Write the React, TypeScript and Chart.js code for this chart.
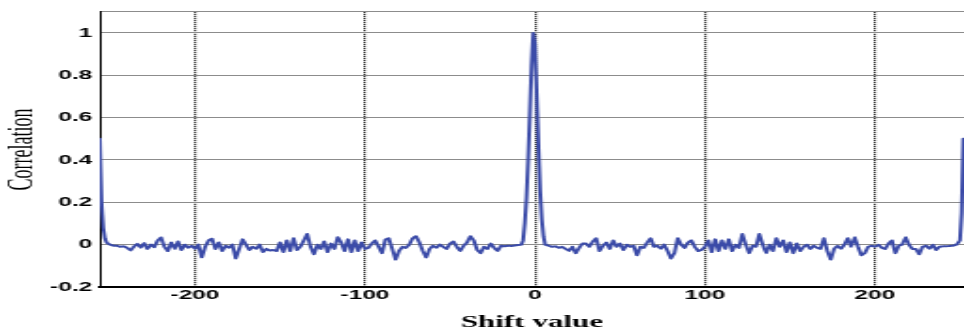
import { useEffect, useRef } from "react";
import { Chart, registerables } from "chart.js";

Chart.register(...registerables);

// Shift values (x) and correlation values (y)
const shiftValues = [
  -256, -255, -254, -253, -252, -250, -248, -246, -244, -242, -240, -238, -236, -234, -232, -230,
  -228, -226, -224, -222, -220, -218, -216, -214, -212, -210, -208, -206, -204, -202, -200,
  -198, -196, -194, -192, -190, -188, -186, -184, -182, -180, -178, -176, -174, -172, -170,
  -168, -166, -164, -162, -160, -158, -156, -154, -152, -150, -148, -146, -144, -142, -140,
  -138, -136, -134, -132, -130, -128, -126, -124, -122, -120, -118, -116, -114, -112, -110,
  -108, -106, -104, -102, -100, -98, -96, -94, -92, -90, -88, -86, -84, -82, -80,
  -78, -76, -74, -72, -70, -68, -66, -64, -62, -60, -58, -56, -54, -52, -50,
  -48, -46, -44, -42, -40, -38, -36, -34, -32, -30, -28, -26, -24, -22, -20,
  -18, -16, -14, -12, -10, -8, -7, -6, -5, -4, -3, -2, -1, 0, 1, 2, 3, 4, 5, 6,
  8, 10, 12, 14, 16, 18, 20, 22, 24, 26, 28, 30, 32, 34, 36, 38, 40,
  42, 44, 46, 48, 50, 52, 54, 56, 58, 60, 62, 64, 66, 68, 70, 72, 74, 76, 78, 80,
  82, 84, 86, 88, 90, 92, 94, 96, 98, 100, 102, 104, 106, 108, 110, 112, 114, 116, 118, 120,
  122, 124, 126, 128, 130, 132, 134, 136, 138, 140, 142, 144, 146, 148, 150, 152, 154, 156, 158, 160,
  162, 164, 166, 168, 170, 172, 174, 176, 178, 180, 182, 184, 186, 188, 190, 192, 194, 196, 198, 200,
  202, 204, 206, 208, 210, 212, 214, 216, 218, 220, 222, 224, 226, 228, 230, 232, 234, 236, 238, 240,
  242, 244, 246, 248, 250, 251, 252,
];

const correlation = [
  0.5, 0.2, 0.08, 0.03, 0.01, 0.0, -0.005, -0.005, -0.01, -0.008, -0.015, -0.028, -0.01, 0.005, -0.015, 0.008,
  -0.02, 0.0, -0.012, 0.02, 0.034, -0.01, -0.03, 0.01, -0.02, 0.015, -0.025, 0.0, -0.015, -0.005, -0.02,
  0.0, -0.06, -0.01, 0.02, 0.028, -0.02, 0.01, -0.03, -0.005, -0.015, 0.0, -0.065, -0.02, 0.025, 0.0,
  -0.025, -0.01, -0.02, 0.0, -0.035, -0.02, -0.028, -0.025, -0.03, 0.01, -0.035, 0.02, -0.03, 0.03, -0.025,
  -0.01, 0.02, 0.05, -0.01, -0.045, 0.0, -0.02, 0.015, -0.035, 0.005, -0.02, 0.035, 0.01, -0.03, 0.025,
  -0.035, 0.02, -0.03, 0.01, -0.02, -0.015, 0.005, 0.02, -0.01, -0.04, 0.025, 0.03, -0.02, -0.07, -0.03,
  -0.01, -0.015, 0.0, 0.03, 0.04, 0.01, -0.03, -0.06, -0.02, -0.005, -0.015, 0.0, -0.01, -0.02, 0.005,
  0.015, -0.01, -0.03, -0.005, 0.01, 0.04, 0.02, -0.025, -0.04, -0.01, -0.02, 0.005, -0.015, -0.03, -0.005,
  -0.008, -0.005, -0.006, -0.004, -0.002, 0.0, 0.02, 0.1, 0.22, 0.4, 0.62, 0.85, 1.0, 0.95, 0.72, 0.48, 0.26, 0.12, 0.04, 0.0,
  -0.005, -0.01, -0.008, -0.015, -0.01, -0.02, -0.03, -0.01, -0.04, -0.015, 0.005, 0.005, -0.01, 0.015, 0.03, -0.03, -0.005,
  0.01, -0.02, 0.02, -0.01, 0.005, -0.025, 0.0, -0.01, -0.005, -0.05, -0.01, -0.015, 0.01, 0.03, -0.01, -0.005, -0.02, 0.0, -0.03, -0.065,
  -0.04, 0.03, 0.0, -0.015, 0.01, 0.02, -0.01, -0.03, -0.025, -0.01, 0.02, -0.035, 0.025, -0.03, 0.02, -0.02, 0.025, -0.03, 0.0, -0.015,
  0.05, 0.0, -0.04, -0.005, -0.01, 0.05, 0.0, -0.04, 0.0, -0.03, 0.03, -0.01, 0.02, -0.035, 0.01, -0.04, 0.005, -0.03, -0.01, 0.0,
  -0.02, -0.005, -0.015, -0.02, 0.03, -0.03, -0.07, -0.02, -0.005, -0.02, 0.0, 0.03, -0.01, 0.035, -0.01, -0.05, -0.04, -0.01, -0.005, -0.01,
  0.0, -0.015, -0.02, 0.005, 0.02, -0.04, -0.005, 0.0, 0.035, 0.0, -0.02, -0.02, -0.045, -0.01, -0.005, -0.02, 0.0, -0.025, -0.01, -0.008,
  -0.008, -0.006, -0.005, 0.0, 0.02, 0.15, 0.5,
];

const xTicks = [-200, -100, 0, 100, 200];
const yTicks = [-0.2, 0, 0.2, 0.4, 0.6, 0.8, 1, 1.1];
const yTickLabels = ["-0.2", "0", "0.2", "0.4", "0.6", "0.8", "1", ""];

const X_MIN = -256;
const X_MAX = 252.4;
const Y_MIN = -0.2;
const Y_MAX = 1.1;

const CSS_W = 964;
const CSS_H = 335;
const CANVAS_W = 512;

export default function App() {
  const canvasRef = useRef<HTMLCanvasElement | null>(null);

  useEffect(() => {
    const canvas = canvasRef.current;
    if (!canvas) return;
    const points = shiftValues.map((x, i) => ({ x, y: correlation[i] }));
    const chart = new Chart(canvas, {
      type: "line",
      data: {
        datasets: [
          {
            data: points,
            borderColor: "#3b4ba8",
            borderWidth: 2,
            borderJoinStyle: "round",
            borderCapStyle: "round",
            pointRadius: 0,
            tension: 0.0001,
            fill: false,
          },
        ],
      },
      options: {
        animation: false,
        responsive: false,
        devicePixelRatio: 1,
        layout: { padding: { top: 8, left: 0, right: 0, bottom: 0 } },
        plugins: { legend: { display: false }, tooltip: { enabled: false } },
        scales: {
          x: {
            type: "linear",
            min: X_MIN,
            max: X_MAX,
            afterBuildTicks: (s: any) => {
              s.ticks = xTicks.map((v) => ({ value: v }));
            },
            afterFit: (s: any) => {
              s.height = 48;
            },
            grid: { color: "#000", lineWidth: 1.2, drawTicks: false },
            border: { display: true, color: "#000", width: 2, dash: [1, 1] },
            ticks: {
              color: "#000",
              padding: 1,
              maxRotation: 0,
              autoSkip: false,
              font: { family: "'Liberation Sans', Arial, sans-serif", size: 13, weight: "bold" },
              callback: (v: any) => String(v),
            },
            title: {
              display: true,
              text: "Shift value",
              color: "#000",
              font: { family: "'Liberation Serif', 'Times New Roman', serif", size: 16.5, weight: "bold" },
              padding: { top: 0, bottom: 2 },
            },
          },
          y: {
            min: Y_MIN,
            max: Y_MAX,
            afterBuildTicks: (s: any) => {
              s.ticks = yTicks.map((v) => ({ value: v }));
            },
            afterFit: (s: any) => {
              s.width = 53;
            },
            grid: { color: "#8c8c8c", lineWidth: 1, drawTicks: false },
            border: { display: true, color: "#000", width: 1 },
            ticks: {
              color: "#000",
              padding: 4,
              font: { family: "'Liberation Sans', Arial, sans-serif", size: 13, weight: "bold" },
              callback: (v: any, i: number) => yTickLabels[i] ?? String(v),
            },
            title: {
              display: true,
              text: "Correlation",
              color: "#000",
              font: { family: "'Liberation Serif', 'Times New Roman', serif", size: 18 },
              padding: { top: 1, bottom: 0 },
            },
          },
        },
      },
    });
    return () => chart.destroy();
  }, []);

  return (
    <div style={{ position: "absolute", left: 0, top: 0, width: CSS_W, height: CSS_H, background: "#fff", overflow: "hidden" }}>
      <canvas
        ref={canvasRef}
        width={CANVAS_W}
        height={CSS_H}
        style={{ width: CSS_W + "px", height: CSS_H + "px", display: "block" }}
      />
    </div>
  );
}
